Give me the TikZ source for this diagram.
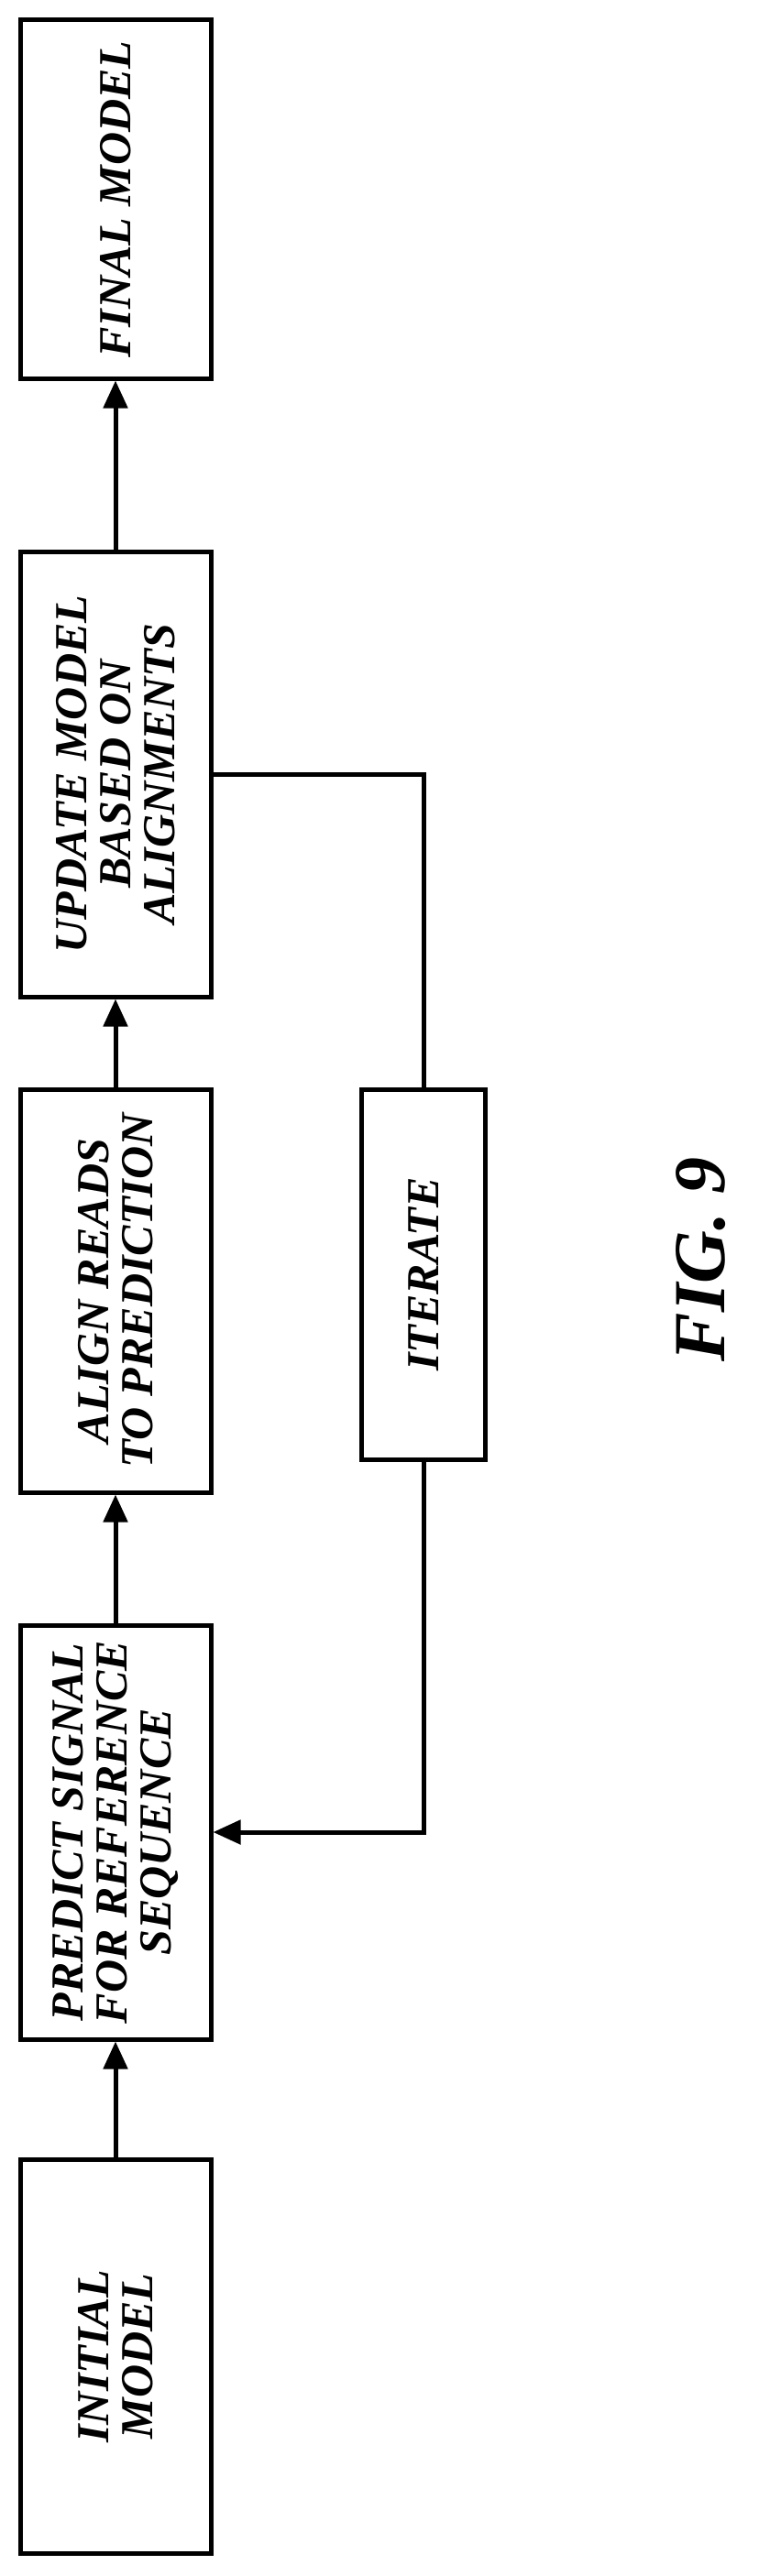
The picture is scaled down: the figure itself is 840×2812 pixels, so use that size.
\documentclass[tikz,border=0pt]{standalone}
\usepackage{fontspec}
\setmainfont{Liberation Serif}
\usetikzlibrary{arrows.meta}
\begin{document}
\begin{tikzpicture}[x=1pt,y=-1pt,
  stepbox/.style={draw,line width=5pt,rotate=90,minimum height=208pt,align=center,
    font=\fontsize{50}{48}\selectfont\bfseries\itshape,inner sep=0pt},
  flow/.style={line width=5pt,-{Triangle[length=30pt,width=26pt]}}]
\useasboundingbox (0,0) rectangle (840,2812);

% boxes
\node[stepbox,minimum width=391pt] (final) at (126,217.5) {FINAL MODEL};
\node[stepbox,minimum width=486pt] (update) at (126,845) {UPDATE MODEL\\BASED ON\\ALIGNMENTS};
\node[stepbox,minimum width=440pt] (align) at (126,1409) {ALIGN READS\\TO PREDICTION};
\node[stepbox,minimum width=452pt] (predict) at (126,2000) {PREDICT SIGNAL\\FOR REFERENCE\\SEQUENCE};
\node[stepbox,minimum width=430pt] (initial) at (126,2572) {INITIAL\\MODEL};
\node[stepbox,minimum width=404pt,minimum height=135pt] (iterate) at (462,1391) {ITERATE};

% arrows
\draw[flow] (initial.east) -- (predict.west);
\draw[flow] (predict.east) -- (align.west);
\draw[flow] (align.east) -- (update.west);
\draw[flow] (update.east) -- (final.west);

% feedback loop
\draw[line width=5pt] (update.south) -| (iterate.east);
\draw[flow] (iterate.west) |- (predict.south);

\node[rotate=90,font=\fontsize{80}{80}\selectfont\bfseries\itshape] (fig) at (765,1375) {FIG. 9};
\end{tikzpicture}
\end{document}
